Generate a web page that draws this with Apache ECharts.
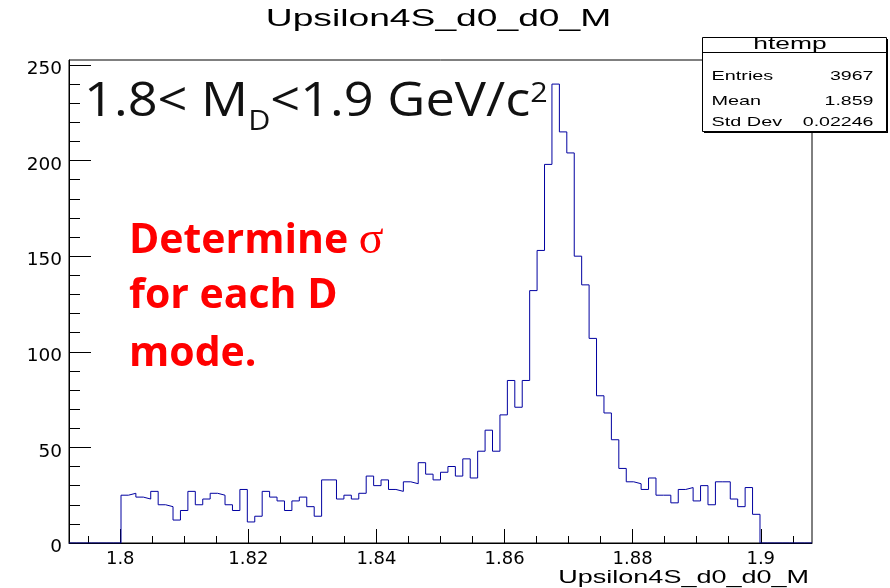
<!DOCTYPE html>
<html><head><meta charset="utf-8">
<script src="https://cdn.jsdelivr.net/npm/echarts@6/dist/echarts.min.js"></script>
<style>html,body{margin:0;padding:0;background:#fff}#c{width:890px;height:588px}</style>
</head><body><div id="c"></div>
<script>
// ---- data ----
const histTitle = 'Upsilon4S_d0_d0_M';
const xAxisTitle = 'Upsilon4S_d0_d0_M';
const axisMin = 1.792;           // histogram / axis range (ROOT htemp, 100 bins)
const axisMax = 1.908;
const nBins = 100;
const firstFilledBin = 7;        // index of first non-empty bin
const counts = [
  25,26,24,23,27,20,19,12,17,27,20,23,26,25,20,17,28,11,14,
  27,24,22,17,22,24,19,14,33,33,23,25,23,26,35,30,33,28,27,32,31,42,
  36,33,37,40,35,44,34,48,59,48,67,85,71,85,
  132,153,198,240,215,204,150,135,107,77,68,
  54,39,32,31,28,34,25,25,21,28,29,22,30,20,32,32,23,19,29,15
];
const xMajorTicks = [1.80, 1.82, 1.84, 1.86, 1.88, 1.90];
const xMinorTicks = [1.795,1.805,1.81,1.815,1.825,1.83,1.835,1.845,1.85,1.855,1.865,1.87,1.875,1.885,1.89,1.895,1.905];
const yMax = 252.6;
const yMajorTicks = [0, 50, 100, 150, 200, 250];
const yMinorTicks = [10,20,30,40,60,70,80,90,110,120,130,140,160,170,180,190,210,220,230,240];
const statsName = 'htemp';
const statsLabels = ['Entries', 'Mean', 'Std Dev'];
const statsValues = ['3967', '1.859', '0.02246'];
const noteRange = ['1.8< M', 'D', '<1.9 GeV/c', '2'];
const noteRed = ['Determine ', 'σ', 'for each D', 'mode.'];

// ---- build histogram outline ----
const binW = (axisMax - axisMin) / nBins;
const full = new Array(nBins).fill(0);
counts.forEach((c, i) => { full[firstFilledBin + i] = c; });
const histData = full.map((c, i) => [axisMin + i * binW, c]);
histData.push([axisMax, full[nBins - 1]]);

const rootFont = 'Liberation Sans, Arial, sans-serif';
const black = '#000';

function txt(x, y, text, size, opt) {
  opt = opt || {};
  return {
    type: 'text', x: x, y: y, z: 100,
    scaleX: opt.scaleX || 1, scaleY: 1,
    style: {
      text: text, fill: opt.fill || black,
      fontSize: size, fontFamily: opt.family || rootFont, fontWeight: opt.weight || 'normal',
      align: opt.align || 'left', textAlign: opt.align || 'left',
      verticalAlign: opt.valign || 'middle', textVerticalAlign: opt.valign || 'middle',
      rich: opt.rich
    }
  };
}

const graphics = [
  txt(438.5, 19, histTitle, 24, {align: 'center', scaleX: 1.55}),
  txt(809, 578, xAxisTitle, 18, {align: 'right', scaleX: 1.5}),
  // stats box
  {type: 'rect', z: 99, shape: {x: 704, y: 39, width: 184, height: 94}, style: {fill: '#000'}},
  {type: 'rect', z: 99, shape: {x: 702.5, y: 37.5, width: 184, height: 94}, style: {fill: '#fff', stroke: '#000', lineWidth: 1}},
  {type: 'line', z: 100, shape: {x1: 702.5, y1: 52.5, x2: 886.5, y2: 52.5}, style: {stroke: '#000', lineWidth: 1}},
  txt(790, 44.5, statsName, 16.5, {align: 'center', scaleX: 1.6}),
];
const rowY = [76.7, 101.7, 122.7];
statsLabels.forEach((l, i) => graphics.push(txt(711.5, rowY[i], l, 13.5, {scaleX: 1.47})));
statsValues.forEach((v, i) => graphics.push(txt(873.5, rowY[i], v, 13.5, {align: 'right', scaleX: 1.45})));

// black annotation
graphics.push(txt(84, 68, '{a|' + noteRange[0] + '}{d|' + noteRange[1] + '}{a|' + noteRange[2] + '}{u|' + noteRange[3] + '}', 48, {
  valign: 'top', family: 'Open Sans', scaleX: 1.09,
  rich: {
    a: {fontSize: 48, lineHeight: 68, fontFamily: 'Open Sans', fill: '#111'},
    d: {fontSize: 28, lineHeight: 28, fontFamily: 'Open Sans', fill: '#111', verticalAlign: 'bottom'},
    u: {fontSize: 28, lineHeight: 28, fontFamily: 'Open Sans', fill: '#111', verticalAlign: 'top', padding: [12, 0, 0, 0]}
  }
}));
// red annotation
const red = '#ff0000';
graphics.push(txt(129, 241, '{b|' + noteRed[0] + '}{s|' + noteRed[1] + '}', 41, {
  family: 'Open Sans', weight: 'bold', fill: red,
  rich: {
    b: {fontSize: 41, fontFamily: 'Open Sans', fontWeight: 'bold', fill: red},
    s: {fontSize: 46, fontFamily: 'Liberation Serif', fontWeight: 'normal', fill: red}
  }
}));
graphics.push(txt(129, 296, noteRed[2], 41, {family: 'Open Sans', weight: 'bold', fill: red}));
graphics.push(txt(129, 354, noteRed[3], 41, {family: 'Open Sans', weight: 'bold', fill: red}));

const chart = echarts.init(document.getElementById('c'));
chart.setOption({
  animation: false,
  backgroundColor: '#fff',
  grid: {left: 69, right: 78, top: 60, bottom: 45, show: true, borderColor: '#000', borderWidth: 1, backgroundColor: '#fff'},
  xAxis: [
    {
      type: 'value', min: axisMin, max: axisMax, position: 'bottom',
      axisLine: {show: true, onZero: false, lineStyle: {color: black, width: 1}},
      axisTick: {show: true, inside: true, length: 14, customValues: xMajorTicks, lineStyle: {color: black}},
      axisLabel: {show: true, customValues: xMajorTicks, color: black, fontFamily: 'DejaVu Sans', fontSize: 18, margin: 7,
        formatter: v => String(+(+v).toFixed(3))},
      splitLine: {show: false}
    },
    {
      type: 'value', min: axisMin, max: axisMax, position: 'bottom',
      axisLine: {show: false, onZero: false},
      axisTick: {show: true, inside: true, length: 7, customValues: xMinorTicks, lineStyle: {color: black}},
      axisLabel: {show: false}, splitLine: {show: false}
    }
  ],
  yAxis: [
    {
      type: 'value', min: 0, max: yMax, position: 'left',
      axisLine: {show: true, onZero: false, lineStyle: {color: black, width: 1}},
      axisTick: {show: true, inside: true, length: 22, customValues: yMajorTicks, lineStyle: {color: black}},
      axisLabel: {show: true, customValues: yMajorTicks, color: black, fontFamily: 'DejaVu Sans', fontSize: 18.5, margin: 7,
        verticalAlign: 'top', lineHeight: 9},
      splitLine: {show: false}
    },
    {
      type: 'value', min: 0, max: yMax, position: 'left',
      axisLine: {show: false, onZero: false},
      axisTick: {show: true, inside: true, length: 11, customValues: yMinorTicks, lineStyle: {color: black}},
      axisLabel: {show: false}, splitLine: {show: false}
    }
  ],
  series: [{
    type: 'line', xAxisIndex: 0, yAxisIndex: 0, step: 'end', data: histData,
    showSymbol: false, symbol: 'none', silent: true, z: 3,
    lineStyle: {color: '#0000a0', width: 1}
  }],
  graphic: graphics
});
</script></body></html>
